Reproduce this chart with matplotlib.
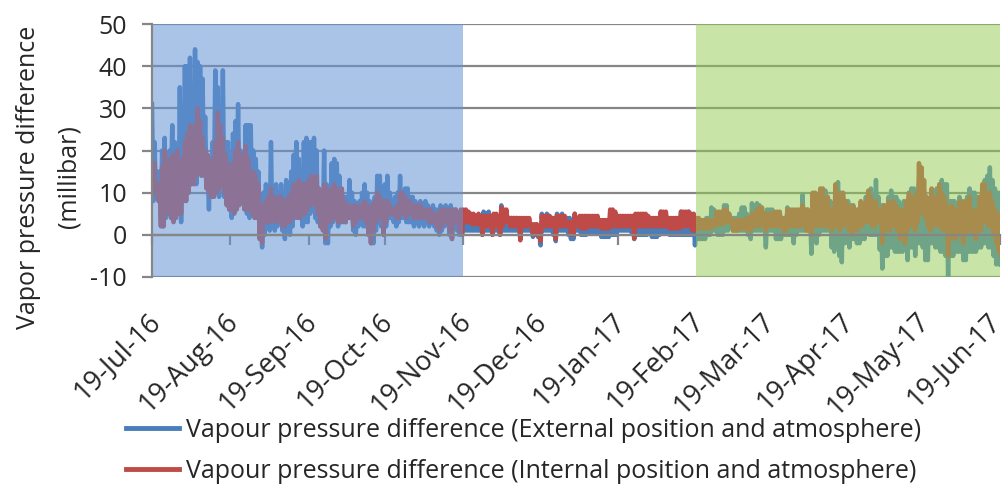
import numpy as np
import pandas as pd
import matplotlib
matplotlib.use('Agg')
import matplotlib.pyplot as plt
import matplotlib.dates as mdates
from matplotlib.transforms import ScaledTranslation

plt.rcParams['font.family'] = ['Open Sans', 'DejaVu Sans']

# daily peak / trough, one value per day from 19-Jul-16
start_date = '2016-07-19'
ext_high = [
    31, 22, 15, 15, 20, 23, 14, 20, 26, 22,
    20, 35, 27, 40, 40, 42, 35, 44, 41, 40,
    37, 28, 15, 18, 22, 39, 35, 28, 39, 22,
    22, 18, 24, 27, 31, 20, 16, 26, 26, 26,
    20, 18, 15, 5, 10, 12, 10, 22, 10, 12,
    10, 12, 10, 13, 11, 15, 19, 22, 18, 14,
    22, 23, 22, 22, 23, 20, 10, 10, 20, 12,
    10, 17, 18, 17, 14, 10, 9, 9, 13, 10,
    8, 7, 8, 10, 12, 10, 8, 6, 9, 14,
    14, 10, 12, 14, 10, 7, 9, 10, 14, 10,
    11, 11, 9, 9, 8, 7, 8, 7, 8, 7,
    6, 7, 6, 6, 7, 6, 7, 6, 7, 6,
    6, 5, 5,
    5, 5, 5, 4.5, 4, 4.5, 4,
    4, 5.5, 5, 5.5, 4, 4, 4, 3, 7, 5,
    5, 4, 4, 4, 4, 3, 3.5, 3, 3, 3,
    2, 2, 2.5, 1, 5, 4, 5, 4.5, 4, 4,
    5, 4.5, 5, 4, 4, 4, 3.5, 5, 4, 4,
    4, 4, 2, 2.5, 2, 2.5, 2, 2, 2.5, 2,
    2, 3, 3, 3, 4, 4, 3.5, 4, 4, 3.5,
    3, 4, 4, 3.5, 4, 4, 3.5, 3, 3, 3,
    3, 5.5, 5, 5, 3, 3, 3, 3, 3, 5.5,
    5, 5, 5.5, 5, 4,
    3, 3.5, 3, 3, 4,
    4, 6.5, 6, 5, 5, 5, 7, 7, 5, 4,
    4, 4, 5, 6.5, 6.5, 5, 4, 7.5, 7, 7.5,
    7, 5, 4, 6, 6, 6, 5, 5, 5, 4,
    4, 6.5, 5, 5, 5, 5, 5, 9.5, 6, 6,
    4, 9, 9, 8, 9, 10, 10.5, 8, 8, 6,
    11, 12.5, 10, 9, 8, 8, 7, 7, 6, 6,
    7, 7, 9, 10, 11, 9, 13, 9, 7, 7,
    7, 9, 10.5, 9, 9, 8, 7, 8, 6, 9,
    11, 11, 9, 12, 12, 10, 9, 8, 10, 9,
    11, 10, 13, 12, 12, 8, 8, 8, 7, 9,
    8, 7, 9, 11, 10, 10, 9, 9, 10, 13,
    14, 16, 13, 11, 10, 10,
]
ext_low = [
    8, 10, 9, 4, 2, 4, 8, 10, 4, 6,
    5, 3, 11, 12, 10, 12, 14, 12, 15, 18,
    14, 13, 6, 11, 12, 10, 9, 12, 9, 8,
    6, 4, 6, 9, 8, 9, 7, 5, 4, 6,
    5, 6, 0, -3, 0, 3, 1, 2, 1, 2,
    3, 1, -1, 1, 0, 2, 4, 5, 4, 2,
    3, 3, 5, 6, 4, 3, 2, 2, -2, -2,
    2, 3, 4, 2, 3, 3, 3, 4, 5, 1,
    0, 2, 3, 2, 2, 0, -2, -2, 1, 3,
    2, 0, 2, 4, 4, 3, 2, 3, 4, 4,
    3, 3, 3, 2, 3, 2, 3, 2, 3, 2,
    3, 2, 1, 0, 1, 2, 3, 0, -1, 2,
    1, 0, 1,
    1, 1, 1, 1, 1, 1, 1,
    0, 1, 1, 1, 0, 1, 1, 0, 1, 1,
    1, 1, 1, 1, 1, -1, 1, 1, 1, 1,
    -0.5, 0, -0.5, -2.5, 1, 1, 1, 1, 0, -1.5,
    1, 1, 1, 1, 0, -1, -1, 1, 1, 0,
    0, 0, 0.5, 0.5, 0.5, 0.5, 0.5, -0.5, -0.5, -0.5,
    -0.5, 0, 0, 0, 1, 1, 1, 1, 1, 0.5,
    -1, 0, 0, 0, 0, 0, 0.5, -0.5, -0.5, -0.5,
    0, 0.5, 0.5, 0.5, 0, 0, 0, 0, 0, 0,
    0, 0, 0, 0, -2.5,
    -1, -1, -1, -1, 0,
    0, 1, 1, 0, 0, 0, 1, 1, 2, 1,
    1, 1, 1, 1, 1, 0, -1, 1, 1, 1,
    1, 1, -3, 1, 1, 1, -1, -1, -1, 0,
    0, 0, 0, -2, 0, 1, 1, 1, 1, 1,
    -4.5, 0, -2, 0, 1, 1, 1, 1, -3, -4,
    -3, -5, -6.5, -2, -1, -3, -1, -1, -2, -2,
    -1, -1, 1, 0, 0, 0, 0, -3.5, -8, -5,
    -5, -3, -3, -4, -4, -4, -4, -3, -6, -3,
    -3, -5, -2, -2, -3, -6, -6, -2, -2, -3,
    -3, -4, -4, -5, -10.5, -5, -5, -4, -4, -4,
    -6, -6, -4, -4, -4, -4, -3, -3, -2, -2,
    -3, -3, -5, -7, -7, -7,
]
int_high = [
    17, 17, 12, 12, 16, 20, 18, 15, 19, 18,
    20, 16, 18, 22, 24, 26, 23, 26, 30, 27,
    23, 20, 19, 16, 18, 22, 29, 26, 23, 19,
    17, 14, 17, 20, 22, 19, 16, 21, 18, 15,
    15, 14, 12, 7, 7, 8, 9, 11, 9, 8,
    9, 9, 8, 8, 9, 10, 12, 11, 13, 12,
    12, 12, 13, 14, 12, 14, 11, 10, 12, 11,
    9, 11, 12, 11, 10, 11, 8, 7, 7, 6,
    7, 6, 7, 7, 8, 7, 6, 7, 8, 10,
    9, 8, 8, 8, 7, 6, 6, 7, 10, 10,
    9, 8, 8, 7, 7, 7, 7, 6, 6, 6,
    6, 5, 5, 5, 6, 6, 6, 5, 6, 6,
    6, 5, 6,
    6, 6, 5.5, 5, 5, 4.5, 5,
    4.5, 4.5, 4.5, 4.5, 4.5, 5, 5, 4, 6.5, 6,
    6, 4, 4, 4, 4, 4, 4, 4, 4, 4,
    2.5, 2.5, 2.5, 2, 4.5, 4.5, 4.5, 4.5, 4, 4,
    4.5, 4.5, 4.5, 4.5, 3, 3, 3, 5, 4, 4.5,
    4.5, 4.5, 4.5, 4.5, 4.5, 4.5, 4.5, 3.5, 3.5, 3.5,
    3.5, 6, 6, 5.5, 4.5, 4.5, 4.5, 4.5, 4.5, 4.5,
    4.5, 5, 5, 5, 5, 5, 4.5, 4, 4, 4,
    4, 5.5, 5.5, 5.5, 4, 4, 4, 4, 4, 5.5,
    5.5, 5.5, 5.5, 5, 5,
    4, 4, 3.5, 3.5, 3.5,
    3.5, 3.5, 3.5, 5.5, 5.5, 5.5, 6, 6, 5, 3.5,
    3.5, 3.5, 3.5, 3.5, 3.5, 4, 4, 5, 5, 6,
    6.5, 6.5, 5, 5, 5, 5, 5.5, 5.5, 5.5, 4,
    4, 6, 6, 6, 6, 6, 6, 7, 6, 6,
    4, 10, 10, 9, 11, 11, 8, 9, 6, 6,
    12, 10, 8, 10, 8, 7, 6, 7, 5, 6,
    8, 7, 8, 10.5, 9, 7, 8, 6, 6, 7,
    5, 8, 6, 8, 7, 5, 6, 4, 8, 10,
    9, 8, 10, 17, 16, 13, 9, 8, 11, 8,
    9, 12, 10, 9, 7, 6, 7, 6, 5, 8,
    5, 8, 8, 9, 6, 5, 6, 9, 12, 12,
    9, 10, 8, 6, 5, 4.5,
]
int_low = [
    10, 10, 8, 2, 2, 6, 5, 4, 3, 4,
    5, 5, 8, 8, 10, 12, 12, 14, 16, 14,
    15, 11, 10, 9, 9, 10, 11, 12, 10, 7,
    6, 6, 5, 6, 7, 8, 6, 6, 6, 5,
    4, 4, -1, -2, 3, 3, 3, 4, 3, 3,
    4, 2, 2, 3, 3, 4, 5, 4, 4, 5,
    5, 6, 7, 8, 7, 5, 2, 1, -1, 3,
    3, 4, 4, 3, 3, 4, 3, 4, 4, 2,
    3, 4, 4, 4, 3, 0, -2, 1, 3, 4,
    4, 0, 3, 5, 5, 5, 4, 4, 5, 5,
    4, 5, 5, 4, 4, 4, 4, 4, 4, 3,
    3, 3, 2, 1, 2, 3, 3, 1, -1, 3,
    3, 1, 0,
    3, 3, 3, 2.5, 2.5, 2.5, 2.5,
    0, 2, 2, 2, 0, 2, 2, 0, 2, 3,
    3, 2, 2, 2, 2, -1.3, 2, 2, 2, 2,
    0, 0, 0, -1.5, 2, 2, 2, 2, 2, -1,
    2, 2, 2, 2, 2, 0, 0, 2, 2, 1.5,
    1.5, 1.5, 2, 2, 2, 2, 2, 1.5, 1.5, 1.5,
    1.5, 2, 2, 2, 2, 2, 2, 2, 2, 2,
    -0.9, 2, 2, 2, 2, 2, 2, 2, 2, 2,
    2, 2, 2, 2, 1.5, 1.5, 1.5, 1.5, 1.5, 2,
    2, 2, 2, 1, 1,
    1.5, 1.5, 1.5, 1.5, 1.5,
    1.5, 2, 2, 2.5, 2.5, 2.5, 3, 3, 3, 1,
    1, 1, 1.5, 1.5, 1.5, 1, 1, 2, 2, 2,
    2, 3, 1, 2, 2, 2, 2, 2, 2, 1,
    1, 2, 2, 2, 2, 2, 2, 3, 1, 1,
    0, 2, 2, 4, 2, 2, 2, 4, 1, 2,
    3, 1, 2, 2, 3, 1, 0, 2, 1, 2,
    2, 3, 3, 3, 2, 2, 3, 3, -2, 1,
    2, 1, 3, 2, 1, -1, 1, -2, 1, 3,
    2, 1, 3, 5, 6, 4, 2, 1, 2, 3,
    2, 2, 1, 2, -5, -1, 1, -1, 0, 1,
    -2, 0, 1, 2, 0, -1, 1, 1, 3, 3,
    2, 2, 0, -2, -4, -5,
]

tick_labels = ['19-Jul-16', '19-Aug-16', '19-Sep-16', '19-Oct-16', '19-Nov-16', '19-Dec-16',
               '19-Jan-17', '19-Feb-17', '19-Mar-17', '19-Apr-17', '19-May-17', '19-Jun-17']
y_ticks = [-10, 0, 10, 20, 30, 40, 50]
shade_periods = [('2016-07-19', '2016-11-19', '#6494D6', 0.55),
                 ('2017-02-19', '2017-06-19', '#93CC54', 0.51)]
series_names = ['Vapour pressure difference (External position and atmosphere)',
                'Vapour pressure difference (Internal position and atmosphere)']
series_colors = ['#4A7EBB', '#BE4B48']

FS = 18
TXT = '#262626'
GRID = '#868686'


def zigzag(high, low):
    t0 = mdates.date2num(pd.Timestamp(start_date))
    days = t0 + np.arange(len(high), dtype=float)
    x = np.column_stack([days, days + 0.5]).ravel()
    y = np.column_stack([np.asarray(high, float), np.asarray(low, float)]).ravel()
    return x, y


fig = plt.figure(figsize=(10.05, 4.87), dpi=100)
ax = fig.add_axes([152 / 1005, 1 - 277 / 487, 848 / 1005, 253 / 487])

for (hi, lo), name, col in zip([(ext_high, ext_low), (int_high, int_low)], series_names, series_colors):
    x, y = zigzag(hi, lo)
    ax.plot(x, y, color=col, lw=3.2, label=name, zorder=3, solid_joinstyle='round')

for a, b, col, alpha in shade_periods:
    ax.axvspan(mdates.date2num(pd.Timestamp(a)), mdates.date2num(pd.Timestamp(b)),
               color=col, alpha=alpha, lw=0, zorder=4)

tick_dates = mdates.date2num(pd.to_datetime(tick_labels, format='%d-%b-%y'))
ax.set_xlim(tick_dates[0], tick_dates[-1])
ax.set_ylim(-10, 50)
ax.set_yticks(y_ticks)
ax.set_yticklabels([str(v) for v in y_ticks])
ax.grid(axis='y', color=GRID, lw=1.6, zorder=2)
ax.set_axisbelow(False)

# horizontal axis crosses at zero, labels sit at the bottom
ax.spines['bottom'].set_position(('data', 0))
ax.spines['bottom'].set_color(GRID)
ax.spines['bottom'].set_linewidth(1.6)
ax.spines['bottom'].set_zorder(5)
ax.set_xticks(tick_dates)
ax.tick_params(axis='x', direction='out', length=7, width=1.6, color=GRID, labelbottom=False)
ax.spines['left'].set_color(GRID)
ax.spines['left'].set_linewidth(1.6)
ax.spines['left'].set_zorder(5)
ax.spines['top'].set_visible(False)
ax.spines['right'].set_visible(False)
ax.tick_params(axis='y', direction='out', length=7, width=1.6, color=GRID,
               labelsize=FS, labelcolor=TXT, pad=11)

sec = ax.secondary_xaxis('bottom')
sec.set_xticks(tick_dates)
sec.set_xticklabels(tick_labels, rotation=45, ha='right', va='top', rotation_mode='anchor')
sec.tick_params(length=0, labelsize=19.5, labelcolor=TXT, pad=22)
sec.spines['bottom'].set_visible(False)
# pull the rotated labels back so their ends sit under the ticks
labels = sec.get_xticklabels()
for i, lab in enumerate(labels):
    dx = -14 if i == len(labels) - 1 else -6
    lab.set_transform(lab.get_transform() + ScaledTranslation(dx / 100, 0, fig.dpi_scale_trans))

fig.text(49 / 1005, 1 - 177 / 487, 'Vapor pressure difference\n(millibar)', rotation=90,
         ha='center', va='center', multialignment='center', fontsize=FS, color=TXT,
         linespacing=1.8)

fig.legend(loc='upper left', bbox_to_anchor=(126 / 1005, 1 - 418 / 487), frameon=False,
           fontsize=FS, handlelength=2.1, handletextpad=0.3, labelspacing=0.62,
           borderpad=0, borderaxespad=0, labelcolor=TXT)
for line in fig.legends[0].get_lines():
    line.set_linewidth(3.5)

fig.savefig('out.png', dpi=100)
